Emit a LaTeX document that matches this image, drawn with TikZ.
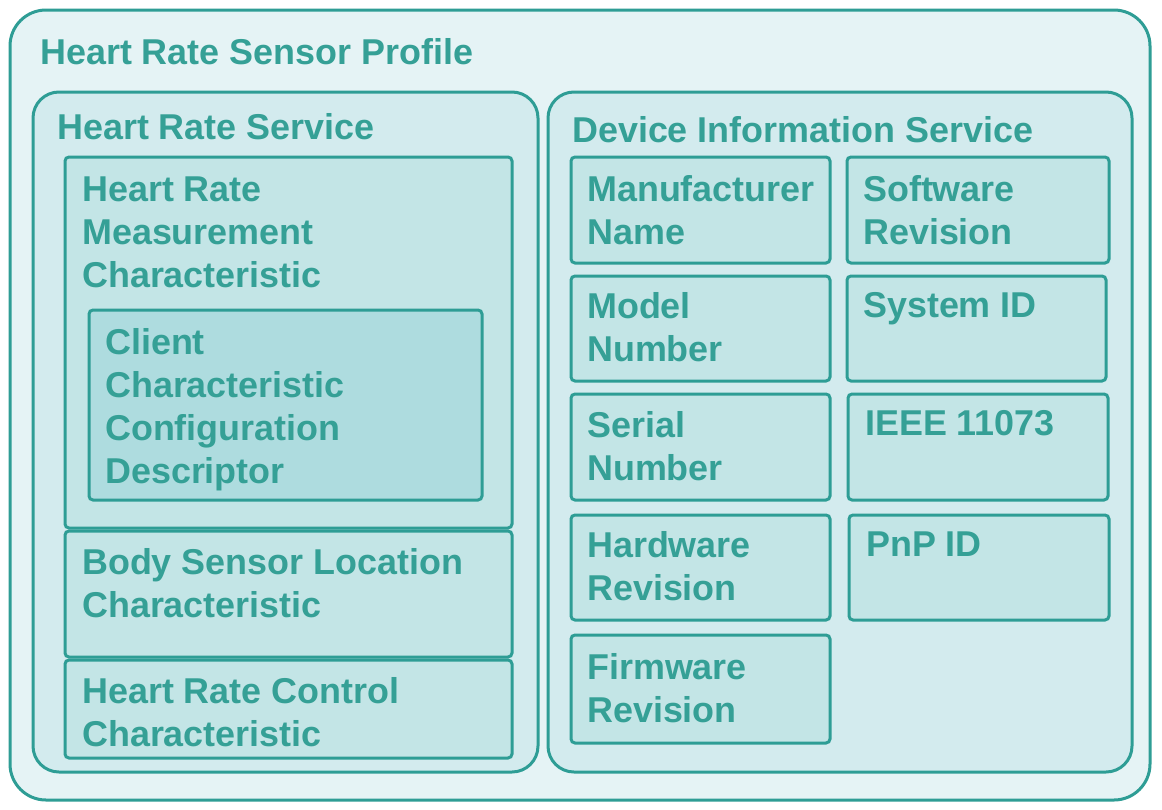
\documentclass[tikz,border=0pt]{standalone}
\usepackage{fontspec}
\setmainfont{Liberation Sans}
\usetikzlibrary{fit}
\definecolor{tealline}{HTML}{2E9D95}
\definecolor{tealtext}{HTML}{35A096}
\definecolor{fillprofile}{HTML}{E5F3F5}
\definecolor{fillservice}{HTML}{D3EBEE}
\definecolor{fillchar}{HTML}{C3E5E6}
\definecolor{filldesc}{HTML}{AEDCDF}
\tikzset{
  profilebox/.style={draw=tealline, line width=3pt, fill=fillprofile, rounded corners=36pt, inner sep=0pt},
  servicebox/.style={draw=tealline, line width=3pt, fill=fillservice, rounded corners=26pt, inner sep=0pt},
  charbox/.style={draw=tealline, line width=3pt, fill=fillchar, rounded corners=4pt, inner sep=0pt},
  descbox/.style={draw=tealline, line width=3pt, fill=filldesc, rounded corners=4pt, inner sep=0pt},
  lbl/.style={anchor=north west, inner sep=0pt, align=left, text=tealtext,
    font=\fontsize{35.9}{43}\selectfont\bfseries},
}
\begin{document}
\begin{tikzpicture}[x=1pt, y=-1pt]
\useasboundingbox[fill=white] (0,0) rectangle (1162,809);

% profile
\node[profilebox, fit={(10,10) (1150,800)}] (profile) {};
\node[lbl] (profile-t) at (40,38) {Heart Rate Sensor Profile};

% heart rate service
\node[servicebox, fit={(33,92) (538,772)}] (hrs) {};
\node[lbl] (hrs-t) at (57,113) {Heart Rate Service};

\node[charbox, fit={(65,157) (512,528)}] (hrm) {};
\node[lbl] (hrm-t) at (82,177) {Heart Rate\\Measurement\\Characteristic};
\node[descbox, fit={(89,310) (482,500)}] (cccd) {};
\node[lbl] (cccd-t) at (105,328) {Client\\Characteristic\\Configuration\\Descriptor};

\node[charbox, fit={(65,531) (512,657)}] (bsl) {};
\node[lbl] (bsl-t) at (82,548) {Body Sensor Location\\Characteristic};

\node[charbox, fit={(65,660) (512,758)}] (hrc) {};
\node[lbl] (hrc-t) at (82,677) {Heart Rate Control\\Characteristic};

% device information service
\node[servicebox, fit={(548,92) (1132,772)}] (dis) {};
\node[lbl] (dis-t) at (572,116) {Device Information Service};

\node[charbox, fit={(571,157) (830,263)}] (mfr) {};
\node[lbl] (mfr-t) at (587,175) {Manufacturer\\Name};
\node[charbox, fit={(571,276) (830,381)}] (model) {};
\node[lbl] (model-t) at (587,292) {Model\\Number};
\node[charbox, fit={(571,394) (830,500)}] (serial) {};
\node[lbl] (serial-t) at (587,411) {Serial\\Number};
\node[charbox, fit={(571,515) (830,620)}] (hw) {};
\node[lbl] (hw-t) at (587,531) {Hardware\\Revision};
\node[charbox, fit={(571,635) (830,743)}] (fw) {};
\node[lbl] (fw-t) at (587,653) {Firmware\\Revision};

\node[charbox, fit={(847,157) (1109,263)}] (sw) {};
\node[lbl] (sw-t) at (863,175) {Software\\Revision};
\node[charbox, fit={(847,276) (1106,381)}] (sysid) {};
\node[lbl] (sysid-t) at (863,292) {System ID};
\node[charbox, fit={(848,394) (1108,500)}] (ieee) {};
\node[lbl] (ieee-t) at (865,410) {IEEE 11073};
\node[charbox, fit={(849,515) (1109,620)}] (pnp) {};
\node[lbl] (pnp-t) at (866,532) {PnP ID};
\end{tikzpicture}
\end{document}
